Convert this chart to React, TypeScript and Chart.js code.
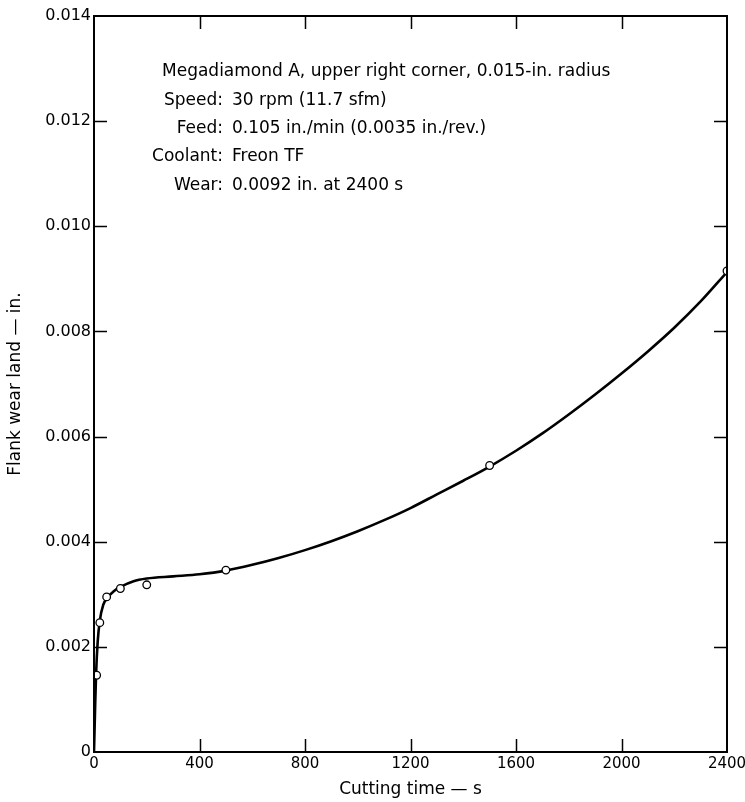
import React, { useEffect, useRef } from "react";
import { Chart, registerables } from "chart.js";

Chart.register(...registerables);

// ---- data ----
const xTickValues = [0, 400, 800, 1200, 1600, 2000, 2400];
const xTickLabels = ["0", "400", "800", "1200", "1600", "2000", "2400"];
const yTickValues = [0, 0.002, 0.004, 0.006, 0.008, 0.01, 0.012, 0.014];
const yTickLabels = ["0", "0.002", "0.004", "0.006", "0.008", "0.010", "0.012", "0.014"];

const measuredTime = [10, 22, 48, 100, 200, 500, 1500, 2400];
const measuredWear = [0.00146, 0.00246, 0.00295, 0.00311, 0.00318, 0.00346, 0.00545, 0.00915];

const curveTime = [0, 4, 8, 14, 22, 35, 50, 75, 100, 150, 200, 300, 400, 500, 600, 700, 800, 900, 1000, 1100, 1200, 1300, 1400, 1500, 1600, 1700, 1800, 1900, 2000, 2100, 2200, 2300, 2400];
const curveWear = [0, 0.0008, 0.0015, 0.0021, 0.0025, 0.0028, 0.00293, 0.00306, 0.00314, 0.00325, 0.0033, 0.00334, 0.00338, 0.00345, 0.00356, 0.00369, 0.00384, 0.00401, 0.0042, 0.00441, 0.00464, 0.0049, 0.00516, 0.00543, 0.00573, 0.00606, 0.00642, 0.0068, 0.0072, 0.00762, 0.00807, 0.00857, 0.00913];

const infoTitle = "Megadiamond A, upper right corner, 0.015-in. radius";
const infoLabels = ["Speed:", "Feed:", "Coolant:", "Wear:"];
const infoValues = ["30 rpm (11.7 sfm)", "0.105 in./min (0.0035 in./rev.)", "Freon TF", "0.0092 in. at 2400 s"];

const xTitle = "Cutting time \u2014 s";
const yTitle = "Flank wear land \u2014 in.";

const FONT = "'DejaVu Sans', 'Liberation Sans', sans-serif";

const framePlugin = {
  id: "frame",
  afterDatasetsDraw(chart: any) {
    const { ctx, chartArea } = chart;
    const { left, right, top, bottom } = chartArea;
    const xs = chart.scales.x;
    const ys = chart.scales.y;
    const TL = 13;
    ctx.save();
    ctx.strokeStyle = "#000";
    ctx.lineWidth = 2;
    ctx.strokeRect(left, top, right - left, bottom - top);
    ctx.lineWidth = 1.5;
    ctx.beginPath();
    xs.ticks.forEach((t: any, i: number) => {
      if (i === 0 || i === xs.ticks.length - 1) return;
      const px = Math.round(xs.getPixelForValue(t.value)) + 0.5;
      ctx.moveTo(px, bottom);
      ctx.lineTo(px, bottom - TL);
      ctx.moveTo(px, top);
      ctx.lineTo(px, top + TL);
    });
    ys.ticks.forEach((t: any, i: number) => {
      if (i === 0 || i === ys.ticks.length - 1) return;
      const py = Math.round(ys.getPixelForValue(t.value)) + 0.5;
      ctx.moveTo(left, py);
      ctx.lineTo(left + TL, py);
      ctx.moveTo(right, py);
      ctx.lineTo(right - TL, py);
    });
    ctx.stroke();
    ctx.restore();
  },
  afterDraw(chart: any) {
    const { ctx, chartArea } = chart;
    const { left, top } = chartArea;
    ctx.save();
    ctx.fillStyle = "#000";
    ctx.font = `17px ${FONT}`;
    ctx.textBaseline = "middle";
    const colonX = left + 129;
    const valueX = left + 138;
    const line0 = top + 56;
    const step = 28.3;
    ctx.textAlign = "left";
    ctx.fillText(infoTitle, left + 68, line0);
    infoLabels.forEach((lab, i) => {
      const y = line0 + step * (i + 1);
      ctx.textAlign = "right";
      ctx.fillText(lab, colonX, y);
      ctx.textAlign = "left";
      ctx.fillText(infoValues[i], valueX, y);
    });
    ctx.restore();
  },
};

export default function App() {
  const ref = useRef<HTMLCanvasElement | null>(null);
  useEffect(() => {
    document.body.style.margin = "0";
    const canvas = ref.current;
    if (!canvas) return;
    const chart = new Chart(canvas, {
      type: "scatter",
      data: {
        datasets: [
          {
            label: "Measured",
            data: measuredTime.map((t, i) => ({ x: t, y: measuredWear[i] })),
            showLine: false,
            pointStyle: "circle",
            pointRadius: 3.8,
            pointBackgroundColor: "#fff",
            pointBorderColor: "#000",
            pointBorderWidth: 1.3,
          },
          {
            label: "Curve",
            data: curveTime.map((t, i) => ({ x: t, y: curveWear[i] })),
            showLine: true,
            borderColor: "#000",
            borderWidth: 2.6,
            pointRadius: 0,
            cubicInterpolationMode: "monotone",
            fill: false,
          },
        ],
      },
      options: {
        animation: false,
        responsive: false,
        maintainAspectRatio: false,
        layout: { padding: { top: 16, right: 18, left: 0, bottom: 0 } },
        plugins: {
          legend: { display: false },
          tooltip: { enabled: false },
        },
        scales: {
          x: {
            type: "linear",
            min: 0,
            max: 2400,
            afterBuildTicks: (s: any) => {
              s.ticks = xTickValues.map((v) => ({ value: v }));
            },
            afterFit: (s: any) => {
              s.height = 50;
              s.paddingLeft = 0;
              s.paddingRight = 0;
            },
            grid: { display: false, drawTicks: false },
            border: { display: false },
            ticks: {
              padding: 3,
              color: "#000",
              font: { family: FONT, size: 15 },
              maxRotation: 0,
              autoSkip: false,
              callback: (_v: any, i: number) => xTickLabels[i],
            },
            title: {
              display: true,
              text: xTitle,
              color: "#000",
              font: { family: FONT, size: 17 },
              padding: { top: 0, bottom: 2 },
            },
          },
          y: {
            type: "linear",
            min: 0,
            max: 0.014,
            afterBuildTicks: (s: any) => {
              s.ticks = yTickValues.map((v) => ({ value: v }));
            },
            afterFit: (s: any) => {
              s.width = 94;
              s.paddingTop = 0;
              s.paddingBottom = 0;
            },
            grid: { display: false, drawTicks: false },
            border: { display: false },
            ticks: {
              padding: 3,
              color: "#000",
              font: { family: FONT, size: 16 },
              autoSkip: false,
              callback: (_v: any, i: number) => yTickLabels[i],
            },
            title: {
              display: true,
              text: yTitle,
              color: "#000",
              font: { family: FONT, size: 17 },
              padding: { top: 5, bottom: 0 },
            },
          },
        },
      },
      plugins: [framePlugin],
    });
    return () => chart.destroy();
  }, []);
  return (
    <div style={{ width: 745, height: 802, background: "#fff" }}>
      <canvas ref={ref} width={745} height={802} style={{ display: "block" }} />
    </div>
  );
}
